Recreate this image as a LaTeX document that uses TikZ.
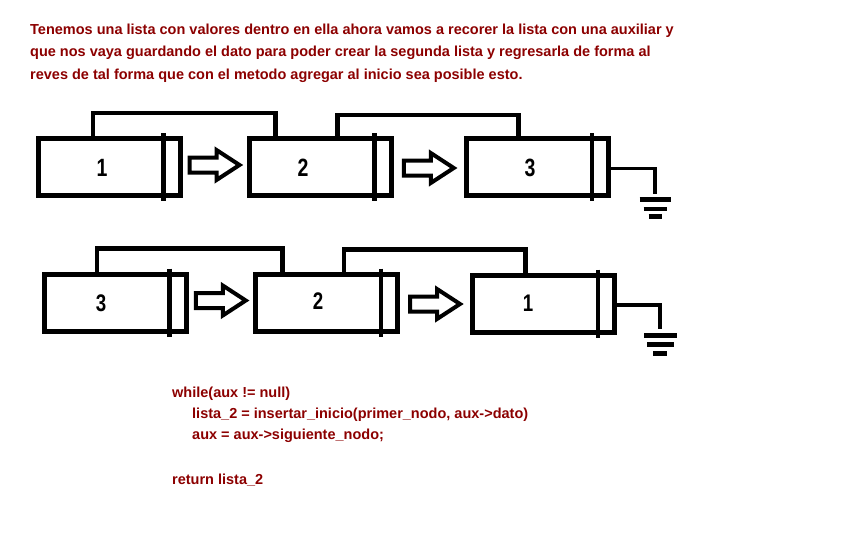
\documentclass[tikz,border=0pt]{standalone}
\usepackage{fontspec}
\setmainfont{Liberation Sans}
\newfontfamily\txtfont{Liberation Sans}
\newfontfamily\numfont{Liberation Sans}[FakeStretch=0.78]
\usetikzlibrary{calc}
\definecolor{darkred}{RGB}{140,0,0}
\begin{document}
\begin{tikzpicture}[x=1pt,y=-1pt,
  listbox/.style={draw, line width=5pt, minimum width=142pt, minimum height=57pt, inner sep=0pt},
  divider/.style={line width=4.5pt},
  link/.style={line width=4.5pt},
  arrowline/.style={line width=4pt, line join=miter},
  groundline/.style={line width=3.5pt},
  groundbar/.style={line width=4.5pt},
  txt/.style={anchor=base west, inner sep=0pt, text=darkred, font=\txtfont\bfseries\fontsize{14.5}{17}\selectfont},
  numbold/.style={inner sep=0pt, font=\numfont\bfseries\fontsize{25}{28}\selectfont},
  numreg/.style={inner sep=0pt, font=\numfont\bfseries\fontsize{24}{28}\selectfont},
  hollowarrow/.pic={\draw[arrowline] (-25,-7.5) -- (2,-7.5) -- (2,-15) -- (25,0) -- (2,15) -- (2,7.5) -- (-25,7.5) -- cycle;}
]
\useasboundingbox (0,0) rectangle (841,543);

% header text
\node[txt] (h1) at (30,34.5) {Tenemos una lista con valores dentro en ella ahora vamos a recorer la lista con una auxiliar y};
\node[txt] (h2) at (30,57) {que nos vaya guardando el dato para poder crear la segunda lista y regresarla de forma al};
\node[txt] (h3) at (30,79.5) {reves de tal forma que con el metodo agregar al inicio sea posible esto.};

% first list
\node[listbox] (b1) at (109,167) {};
\node[listbox] (b2) at (320,167) {};
\node[listbox] (b3) at (537.5,167) {};
\foreach \b in {b1,b2,b3}{
  \draw[divider] ([xshift=-19pt,yshift=3pt]\b.north east) -- ([xshift=-19pt,yshift=-3pt]\b.south east);
}
\node[numbold] (n1) at (102,168) {1};
\node[numbold] (n2) at (303,168) {2};
\node[numbold] (n3) at (530,168) {3};

\draw[link] ([xshift=57.5pt]b1.north west) -- ++(0,-23) -| ([xshift=29pt]b2.north west);
\draw[link] ([xshift=91pt]b2.north west) -- ++(0,-21) -| ([xshift=54.5pt]b3.north west);

\pic at ($(b1.east)!0.5!(b2.west)+(0,-2)$) {hollowarrow};
\pic at ($(b2.east)!0.5!(b3.west)+(0,1)$) {hollowarrow};

\coordinate (g1) at (655,194);
\draw[groundline] ([yshift=-1.5pt]b3.east) -| (g1);
\draw[groundbar] ($(g1)+(-15.5,5.5)$) -- ++(31,0);
\draw[groundbar] ($(g1)+(-11.5,15)$) -- ++(23,0);
\draw[groundbar] ($(g1)+(-6.5,22.5)$) -- ++(13,0);

% second list
\node[listbox] (c3) at (115,302.5) {};
\node[listbox] (c2) at (326.5,302.5) {};
\node[listbox] (c1) at (543.5,303.5) {};
\foreach \b in {c3,c2,c1}{
  \draw[divider] ([xshift=-19pt,yshift=3pt]\b.north east) -- ([xshift=-19pt,yshift=-3pt]\b.south east);
}
\node[numreg] (m3) at (101,303) {3};
\node[numreg] (m2) at (318,301) {2};
\node[numreg] (m1) at (528,303) {1};

\draw[link] ([xshift=55.5pt]c3.north west) -- ++(0,-23) -| ([xshift=29.5pt]c2.north west);
\draw[link] ([xshift=91pt]c2.north west) -- ++(0,-22) -| ([xshift=55.5pt]c1.north west);

\pic at ($(c3.east)!0.5!(c2.west)+(0,-2)$) {hollowarrow};
\pic at ($(c2.east)!0.5!(c1.west)+(0,1)$) {hollowarrow};

\coordinate (g2) at (660,329);
\draw[groundline] ([yshift=-1.5pt]c1.east) -| (g2);
\draw[groundbar] ($(g2)+(-16,6.5)$) -- ++(33,0);
\draw[groundbar] ($(g2)+(-13,15.5)$) -- ++(27,0);
\draw[groundbar] ($(g2)+(-7,24.5)$) -- ++(14,0);

% code
\node[txt] (k1) at (172,397) {while(aux != null)};
\node[txt] (k2) at (192,418) {lista\_2 = insertar\_inicio(primer\_nodo, aux->dato)};
\node[txt] (k3) at (192,439) {aux = aux->siguiente\_nodo;};
\node[txt] (k4) at (172,484) {return lista\_2};
\end{tikzpicture}
\end{document}
